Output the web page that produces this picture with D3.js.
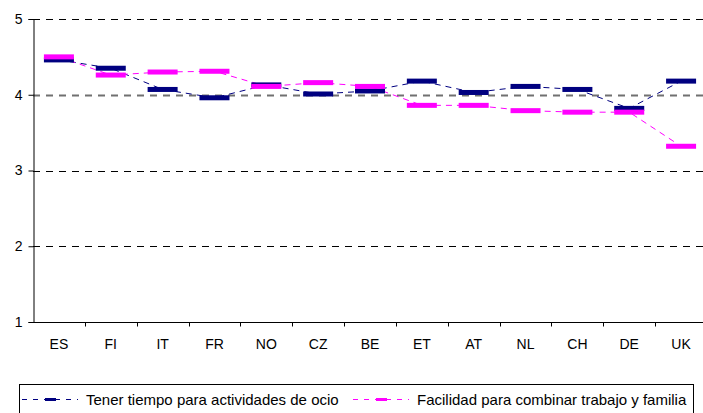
<!DOCTYPE html>
<html>
<head>
<meta charset="utf-8">
<script src="https://cdn.jsdelivr.net/npm/d3@7"></script>
<style>
	body { margin: 0; background: #fff; }
	svg { font-family: "Liberation Sans", Arial, sans-serif; }
</style>
</head>
<body>
<div id="chart"></div>
<script>
// DATA
var countries = ["ES", "FI", "IT", "FR", "NO", "CZ", "BE", "ET", "AT", "NL", "CH", "DE", "UK"];
var ocio = [4.46, 4.35, 4.07, 3.96, 4.13, 4.01, 4.05, 4.18, 4.03, 4.11, 4.07, 3.82, 4.18];
var familia = [4.50, 4.26, 4.30, 4.31, 4.11, 4.16, 4.11, 3.86, 3.86, 3.79, 3.77, 3.77, 3.32];
var yTicks = [1, 2, 3, 4, 5];
var seriesNames = ["Tener tiempo para actividades de ocio", "Facilidad para combinar trabajo y familia"];
var colors = ["#000080", "#ff00ff"];

var width = 703, height = 413;
var margin = { top: 19, right: -4, bottom: 91, left: 33 };

var svg = d3.select("#chart")
	.append("svg")
	.attr("width", width)
	.attr("height", height);

var g = svg.append("g")
	.attr("transform", "translate(" + margin.left + "," + margin.top + ")");

var w = width - margin.left - margin.right,
	h = height - margin.top - margin.bottom;

// SCALES
var x = d3.scaleBand().domain(countries).range([0, w]);
var y = d3.scaleLinear().domain([1, 5]).range([h, 0]);

// GRIDLINES
g.selectAll(".grid")
	.data(yTicks.filter(function (d) { return d > 1; }))
	.join("line")
	.attr("class", "grid")
	.attr("x1", 0)
	.attr("x2", w)
	.attr("y1", function (d) { return Math.round(y(d)) + 0.5; })
	.attr("y2", function (d) { return Math.round(y(d)) + 0.5; })
	.attr("stroke", function (d) { return d === 4 ? "#707070" : "#000"; })
	.attr("stroke-width", function (d) { return d === 4 ? 2 : 1; })
	.attr("stroke-dasharray", "7,6");

// Y AXIS
var yAxis = g.append("g")
	.attr("transform", "translate(0.5,0)")
	.call(d3.axisLeft(y).tickValues(yTicks).tickSize(5).tickPadding(6).tickFormat(d3.format("d")));
yAxis.select(".domain").attr("stroke", "#000");
yAxis.selectAll("text").attr("font-size", 14).attr("fill", "#000").attr("font-family", "Liberation Sans, Arial");

// X AXIS
var xAxis = g.append("g")
	.attr("transform", "translate(0," + (Math.round(h) + 0.5) + ")");
xAxis.append("line")
	.attr("x1", 0).attr("x2", w)
	.attr("stroke", "#000");
xAxis.selectAll(".xtick")
	.data(countries.slice(1))
	.join("line")
	.attr("class", "xtick")
	.attr("x1", function (d) { return Math.round(x(d)) + 0.5; })
	.attr("x2", function (d) { return Math.round(x(d)) + 0.5; })
	.attr("y1", 0).attr("y2", 4)
	.attr("stroke", "#000");
xAxis.selectAll(".xlabel")
	.data(countries)
	.join("text")
	.attr("class", "xlabel")
	.attr("x", function (d) { return x(d) + x.bandwidth() / 2; })
	.attr("y", 26)
	.attr("text-anchor", "middle")
	.attr("font-size", 14)
	.text(function (d) { return d; });

// LINES AND MARKERS
[ocio, familia].forEach(function (vals, i) {
	var line = d3.line()
		.x(function (d, j) { return x(countries[j]) + x.bandwidth() / 2; })
		.y(function (d) { return y(d); });
	g.append("path")
		.datum(vals)
		.attr("fill", "none")
		.attr("stroke", colors[i])
		.attr("stroke-width", 1)
		.attr("stroke-dasharray", "6,5")
		.attr("d", line);
});
[ocio, familia].forEach(function (vals, i) {
	g.selectAll(".marker-" + i)
		.data(vals)
		.join("rect")
		.attr("class", "marker-" + i)
		.attr("x", function (d, j) { return x(countries[j]) + x.bandwidth() / 2 - 15; })
		.attr("y", function (d) { return y(d) - 2.5; })
		.attr("width", 30)
		.attr("height", 5)
		.attr("fill", colors[i]);
});

// LEGEND
var legend = svg.append("g");
legend.append("rect")
	.attr("x", 19.5).attr("y", 384.5)
	.attr("width", 674).attr("height", 40)
	.attr("fill", "#fff")
	.attr("stroke", "#000");

var legendX = [22, 353];
seriesNames.forEach(function (name, i) {
	var lg = legend.append("g").attr("transform", "translate(" + legendX[i] + ",399.5)");
	lg.append("line")
		.attr("x1", 0).attr("x2", 56)
		.attr("stroke", colors[i])
		.attr("stroke-dasharray", "5,6");
	lg.append("rect")
		.attr("x", 23).attr("y", -1.5)
		.attr("width", 11).attr("height", 3)
		.attr("fill", colors[i]);
	lg.append("text")
		.attr("x", 64).attr("y", 5)
		.attr("font-size", 15)
		.text(name);
});
</script>
</body>
</html>
